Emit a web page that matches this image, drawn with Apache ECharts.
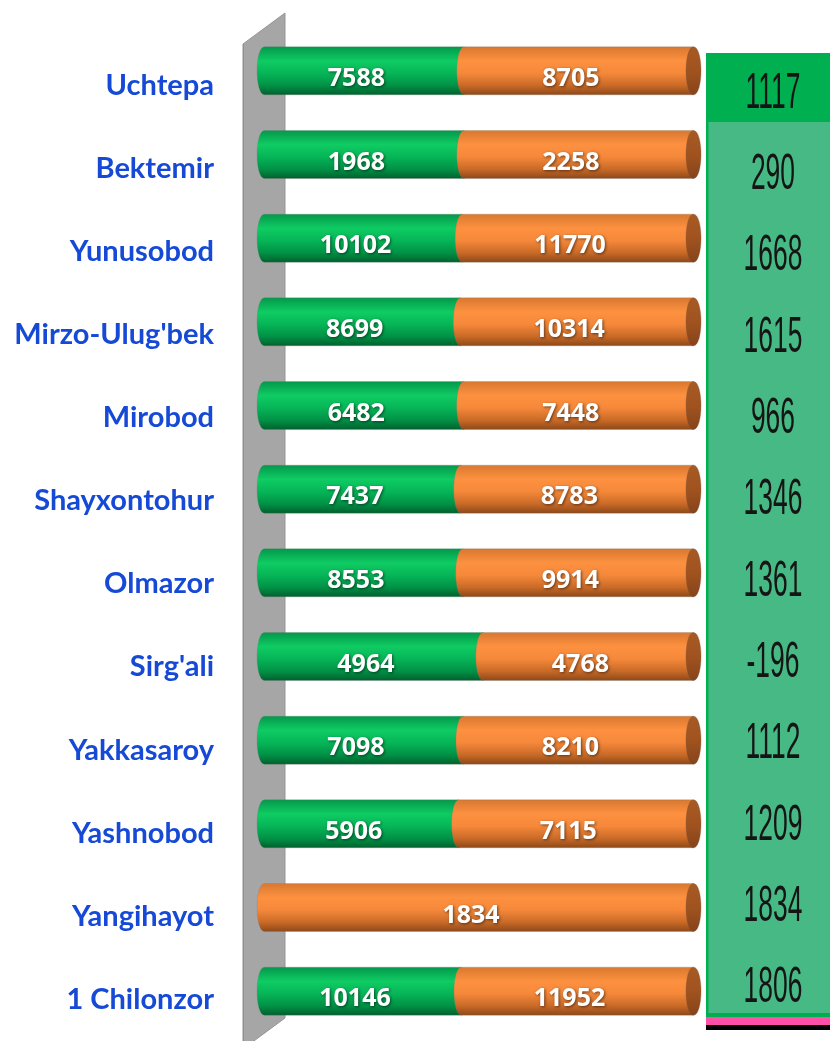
<!DOCTYPE html>
<html>
<head>
<meta charset="utf-8">
<script src="https://cdn.jsdelivr.net/npm/echarts@6/dist/echarts.min.js"></script>
<style>
  html, body { margin: 0; padding: 0; background: #fff; }
  #main { width: 830px; height: 1041px; }
</style>
</head>
<body>
<div id="main"></div>
<script>
// tumanlar (yuqoridan pastga)
const districts = ['Uchtepa', 'Bektemir', 'Yunusobod', "Mirzo-Ulug'bek", 'Mirobod', 'Shayxontohur',
  'Olmazor', "Sirg'ali", 'Yakkasaroy', 'Yashnobod', 'Yangihayot', '1 Chilonzor'];
// yashil qism
const greenVals = [7588, 1968, 10102, 8699, 6482, 7437, 8553, 4964, 7098, 5906, 0, 10146];
// to'q sariq qism
const orangeVals = [8705, 2258, 11770, 10314, 7448, 8783, 9914, 4768, 8210, 7115, 1834, 11952];
// o'ngdagi jadval (farq)
const diffVals = [1117, 290, 1668, 1615, 966, 1346, 1361, -196, 1112, 1209, 1834, 1806];

// silindr bo'laklari: [qator, boshlanish, tugash, qiymat, tur]
const segments = [];
districts.forEach(function (d, i) {
  const total = greenVals[i] + orangeVals[i];
  const gp = greenVals[i] / total;
  if (greenVals[i] > 0) segments.push([i, 0, gp, greenVals[i], 0]);
  segments.push([i, gp, 1, orangeVals[i], 1]);
});

const greenFill = new echarts.graphic.LinearGradient(0, 0, 0, 1, [
  { offset: 0, color: '#03964a' },
  { offset: 0.3, color: '#0fcc63' },
  { offset: 0.55, color: '#06b557' },
  { offset: 0.8, color: '#019146' },
  { offset: 1, color: '#005e2d' }
]);
const orangeFill = new echarts.graphic.LinearGradient(0, 0, 0, 1, [
  { offset: 0, color: '#d7772f' },
  { offset: 0.3, color: '#fd9140' },
  { offset: 0.55, color: '#f5883a' },
  { offset: 0.8, color: '#c96a27' },
  { offset: 1, color: '#8a4718' }
]);
const capFill = new echarts.graphic.LinearGradient(0, 0, 0, 1, [
  { offset: 0, color: '#a85a24' },
  { offset: 0.5, color: '#a0531f' },
  { offset: 1, color: '#86431a' }
]);

function cylinder(params, api) {
  const ci = api.value(0), kind = api.value(4);
  const a = api.coord([api.value(1), ci]);
  const b = api.coord([api.value(2), ci]);
  const h = 48, rx = 7.5, k = rx * 4 / 3;
  const x0 = a[0], x1 = b[0], cy = a[1];
  const t = cy - h / 2, bt = cy + h / 2;
  const kids = [{
    type: 'path',
    shape: { pathData: 'M' + x0 + ' ' + t + 'L' + x1 + ' ' + t + 'L' + x1 + ' ' + bt + 'L' + x0 + ' ' + bt +
      'C' + (x0 - k) + ' ' + bt + ' ' + (x0 - k) + ' ' + t + ' ' + x0 + ' ' + t + 'Z' },
    style: { fill: kind === 0 ? greenFill : orangeFill, stroke: 'rgba(120,120,120,0.25)', lineWidth: 1 }
  }];
  if (kind === 1) {
    kids.push({
      type: 'path',
      shape: { pathData: 'M' + x1 + ' ' + t + 'C' + (x1 + k) + ' ' + t + ' ' + (x1 + k) + ' ' + bt + ' ' + x1 + ' ' + bt +
        'C' + (x1 - k) + ' ' + bt + ' ' + (x1 - k) + ' ' + t + ' ' + x1 + ' ' + t + 'Z' },
      style: { fill: capFill, stroke: 'rgba(120,80,60,0.3)', lineWidth: 1 }
    });
  }
  kids.push({
    type: 'text',
    x: (x0 + x1) / 2 - 8,
    y: cy + 8,
    style: {
      text: String(api.value(3)),
      fill: '#fff',
      font: 'bold 25px "Open Sans"',
      textAlign: 'center',
      textVerticalAlign: 'middle',
      textShadowColor: 'rgba(0,0,0,0.55)',
      textShadowBlur: 3,
      textShadowOffsetX: 1,
      textShadowOffsetY: 1
    }
  });
  return { type: 'group', children: kids };
}

function panelCell(params, api) {
  const ri = api.value(0);
  const left = api.coord([0, ri]);
  const c = api.coord([0.54, ri]);
  const sz = api.size([0, 1])[1];
  const kids = [];
  if (ri === 0) {
    kids.push({ type: 'rect', shape: { x: left[0], y: c[1] - sz / 2, width: 130, height: 69 }, style: { fill: '#00b050' } });
  }
  kids.push({
    type: 'text',
    x: c[0],
    y: c[1],
    scaleX: 0.66,
    scaleY: 1.26,
    style: {
      text: String(api.value(1)),
      fill: '#151515',
      font: '40px "Liberation Sans"',
      textAlign: 'center',
      textVerticalAlign: 'middle'
    }
  });
  return { type: 'group', children: kids };
}

const chart = echarts.init(document.getElementById('main'));
chart.setOption({
  animation: false,
  grid: [
    { left: 243, top: 44, width: 420, height: 1004 },
    { left: 264.5, top: 29, width: 429, height: 1004 },
    { left: 706, top: 53, width: 124, height: 976 }
  ],
  xAxis: [
    { gridIndex: 0, type: 'value', show: false },
    { gridIndex: 1, type: 'value', min: 0, max: 1, show: false },
    { gridIndex: 2, type: 'value', min: 0, max: 1, show: false }
  ],
  yAxis: [
    {
      gridIndex: 0, type: 'category', inverse: true, data: districts,
      axisLine: { show: true, lineStyle: { color: '#909090' } },
      axisTick: { length: 7, lineStyle: { color: '#a6a6a6' } },
      splitLine: { show: false },
      axisLabel: { margin: 29, padding: [6, 0, 0, 0], color: '#1549d6', fontWeight: 'bold', fontSize: 29, fontFamily: 'Lato' }
    },
    { gridIndex: 1, type: 'category', inverse: true, data: districts, show: false },
    { gridIndex: 2, type: 'category', inverse: true, data: districts, show: false }
  ],
  graphic: [
    { type: 'polygon', z: 0, shape: { points: [[243, 44], [285, 13], [285, 1018], [243, 1049]] },
      style: { fill: '#a6a6a6', stroke: '#959595', lineWidth: 1 } },
    { type: 'rect', z: 0, shape: { x: 706, y: 53, width: 130, height: 963 }, style: { fill: '#46b985' } },
    { type: 'rect', z: 10, shape: { x: 706, y: 53, width: 2.5, height: 964 }, style: { fill: '#00b050' } },
    { type: 'rect', z: 10, shape: { x: 706, y: 1013, width: 130, height: 4 }, style: { fill: '#00b050' } },
    { type: 'rect', z: 10, shape: { x: 706, y: 1017, width: 130, height: 8 }, style: { fill: '#ff4fa8' } },
    { type: 'rect', z: 10, shape: { x: 706, y: 1025, width: 130, height: 5 }, style: { fill: '#000' } }
  ],
  series: [
    {
      type: 'custom', xAxisIndex: 1, yAxisIndex: 1, z: 5,
      renderItem: cylinder,
      encode: { x: [1, 2], y: 0 },
      data: segments
    },
    {
      type: 'custom', xAxisIndex: 2, yAxisIndex: 2, z: 5,
      renderItem: panelCell,
      encode: { y: 0 },
      data: diffVals.map(function (v, i) { return [i, v]; })
    }
  ]
});
</script>
</body>
</html>
